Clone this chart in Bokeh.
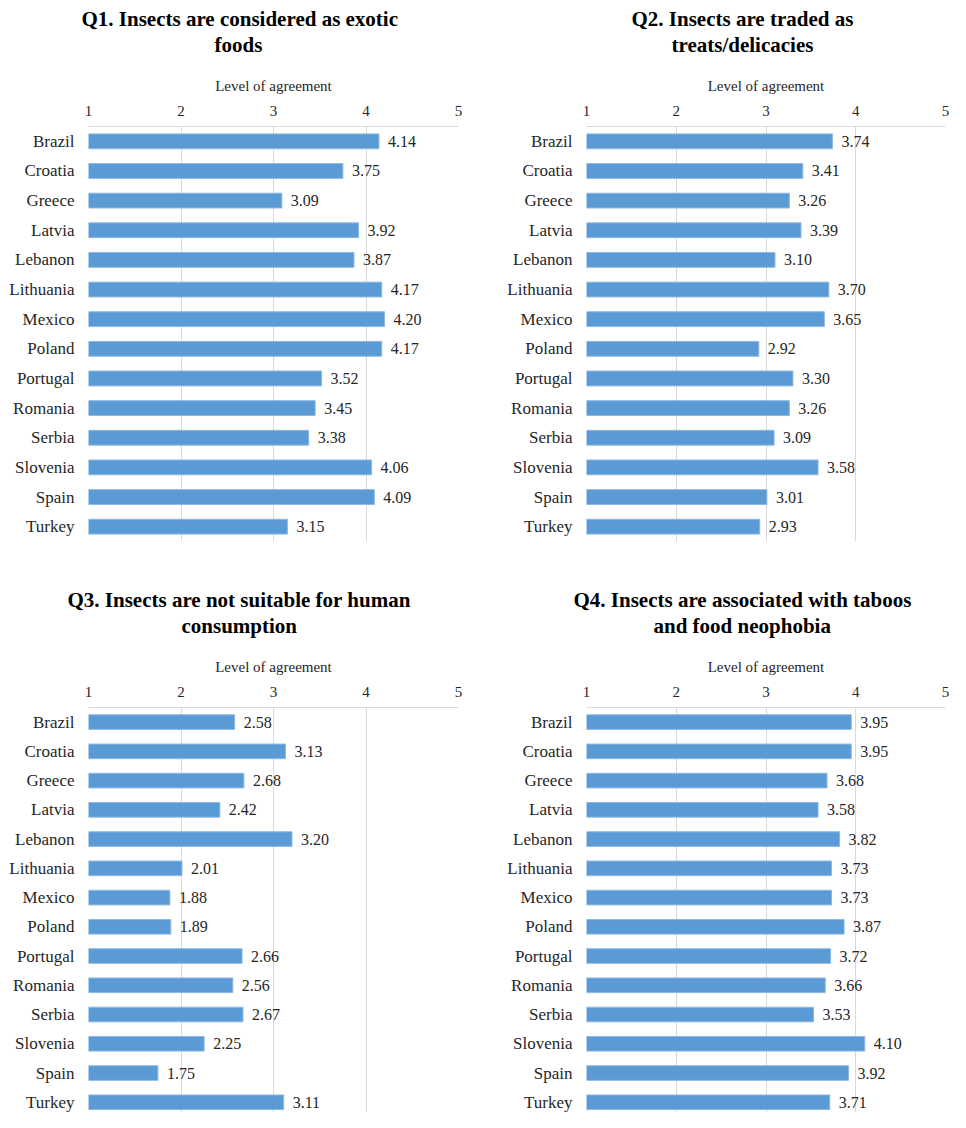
from bokeh.plotting import figure
from bokeh.models import ColumnDataSource, FixedTicker, Range1d, Title
from bokeh.layouts import column, row
from bokeh.embed import file_html
from bokeh.resources import INLINE
from bokeh.core.properties import value

countries = ["Brazil", "Croatia", "Greece", "Latvia", "Lebanon", "Lithuania", "Mexico",
             "Poland", "Portugal", "Romania", "Serbia", "Slovenia", "Spain", "Turkey"]
q1 = [4.14, 3.75, 3.09, 3.92, 3.87, 4.17, 4.20, 4.17, 3.52, 3.45, 3.38, 4.06, 4.09, 3.15]
q2 = [3.74, 3.41, 3.26, 3.39, 3.10, 3.70, 3.65, 2.92, 3.30, 3.26, 3.09, 3.58, 3.01, 2.93]
q3 = [2.58, 3.13, 2.68, 2.42, 3.20, 2.01, 1.88, 1.89, 2.66, 2.56, 2.67, 2.25, 1.75, 3.11]
q4 = [3.95, 3.95, 3.68, 3.58, 3.82, 3.73, 3.73, 3.87, 3.72, 3.66, 3.53, 4.10, 3.92, 3.71]
titles = [
    ("Q1. Insects are considered as exotic", "foods"),
    ("Q2. Insects are traded as", "treats/delicacies"),
    ("Q3. Insects are not suitable for human", "consumption"),
    ("Q4. Insects are associated with taboos", "and food neophobia"),
]
x_ticks = [1, 2, 3, 4, 5]
x_title = "Level of agreement"

# layout only: horizontal offsets (px from the plot frame's left edge) of the title lines
title_offsets = [(-7, 126), (45, 85), (-21, 93), (-13, 67)]

FONT = "Liberation Serif"
BLUE = "#5B9BD5"
GRID = "#D9D9D9"
TXT = "#262626"


def panel(vals, ttl, offs, width, height, left, right, bottom, rows_visible):
    idx = list(range(len(countries)))
    src = ColumnDataSource(dict(y=idx, v=vals, lab=["%.2f" % v for v in vals]))
    p = figure(width=width, height=height, output_backend="svg", toolbar_location=None,
               x_range=Range1d(1, 5), y_range=Range1d(-0.5 + rows_visible, -0.5),
               x_axis_location="above", title_location=None,
               min_border_left=left, min_border_right=right, min_border_bottom=bottom,
               min_border_top=126)
    p.outline_line_color = None
    p.background_fill_color = "white"
    p.border_fill_color = "white"

    p.hbar(y="y", left=1, right="v", height=0.5, source=src,
           fill_color=BLUE, line_color="#8DB8E2", line_width=1)
    p.text(x="v", y="y", text="lab", source=src, x_offset=9,
           text_align="left", text_baseline="middle",
           text_font=value(FONT), text_font_size="16px", text_color=TXT)

    xa = p.xaxis[0]
    xa.ticker = FixedTicker(ticks=x_ticks)
    xa.minor_tick_line_color = None
    xa.major_tick_line_color = None
    xa.major_tick_out = 0
    xa.major_tick_in = 0
    xa.axis_line_color = GRID
    xa.major_label_standoff = 11
    xa.major_label_text_font = FONT
    xa.major_label_text_font_size = "15px"
    xa.major_label_text_color = TXT
    xa.axis_label = x_title
    xa.axis_label_text_font = FONT
    xa.axis_label_text_font_size = "15px"
    xa.axis_label_text_font_style = "normal"
    xa.axis_label_text_color = TXT
    xa.axis_label_standoff = 9

    ya = p.yaxis[0]
    ya.ticker = FixedTicker(ticks=idx)
    ya.major_label_overrides = {i: c for i, c in zip(idx, countries)}
    ya.axis_line_color = None
    ya.major_tick_line_color = None
    ya.minor_tick_line_color = None
    ya.major_tick_out = 0
    ya.major_tick_in = 0
    ya.major_label_standoff = 14
    ya.major_label_text_font = FONT
    ya.major_label_text_font_size = "17px"
    ya.major_label_text_color = TXT

    p.xgrid.grid_line_color = GRID
    p.xgrid.ticker = FixedTicker(ticks=x_ticks)
    p.ygrid.grid_line_color = None

    # spacer between the axis title and the panel title
    p.add_layout(Title(text=" ", text_font_size="1px", standoff=15), "above")
    p.add_layout(Title(text=ttl[1], align="left", offset=offs[1], text_font=FONT,
                       text_font_size="21px", text_font_style="bold",
                       text_color="black", standoff=0), "above")
    p.add_layout(Title(text=ttl[0], align="left", offset=offs[0], text_font=FONT,
                       text_font_size="21px", text_font_style="bold",
                       text_color="black", standoff=0), "above")
    return p


full_rows = len(countries)
bottom_rows = 13.85
p1 = panel(q1, titles[0], title_offsets[0], 475, 581, 88, 17, 40, full_rows)
p2 = panel(q2, titles[1], title_offsets[1], 475, 581, 111, 5, 40, full_rows)
p3 = panel(q3, titles[2], title_offsets[2], 475, 531, 88, 17, 0, bottom_rows)
p4 = panel(q4, titles[3], title_offsets[3], 475, 531, 111, 5, 0, bottom_rows)

layout = column(row(p1, p2), row(p3, p4))
open("out.html", "w").write(file_html(layout, INLINE))
